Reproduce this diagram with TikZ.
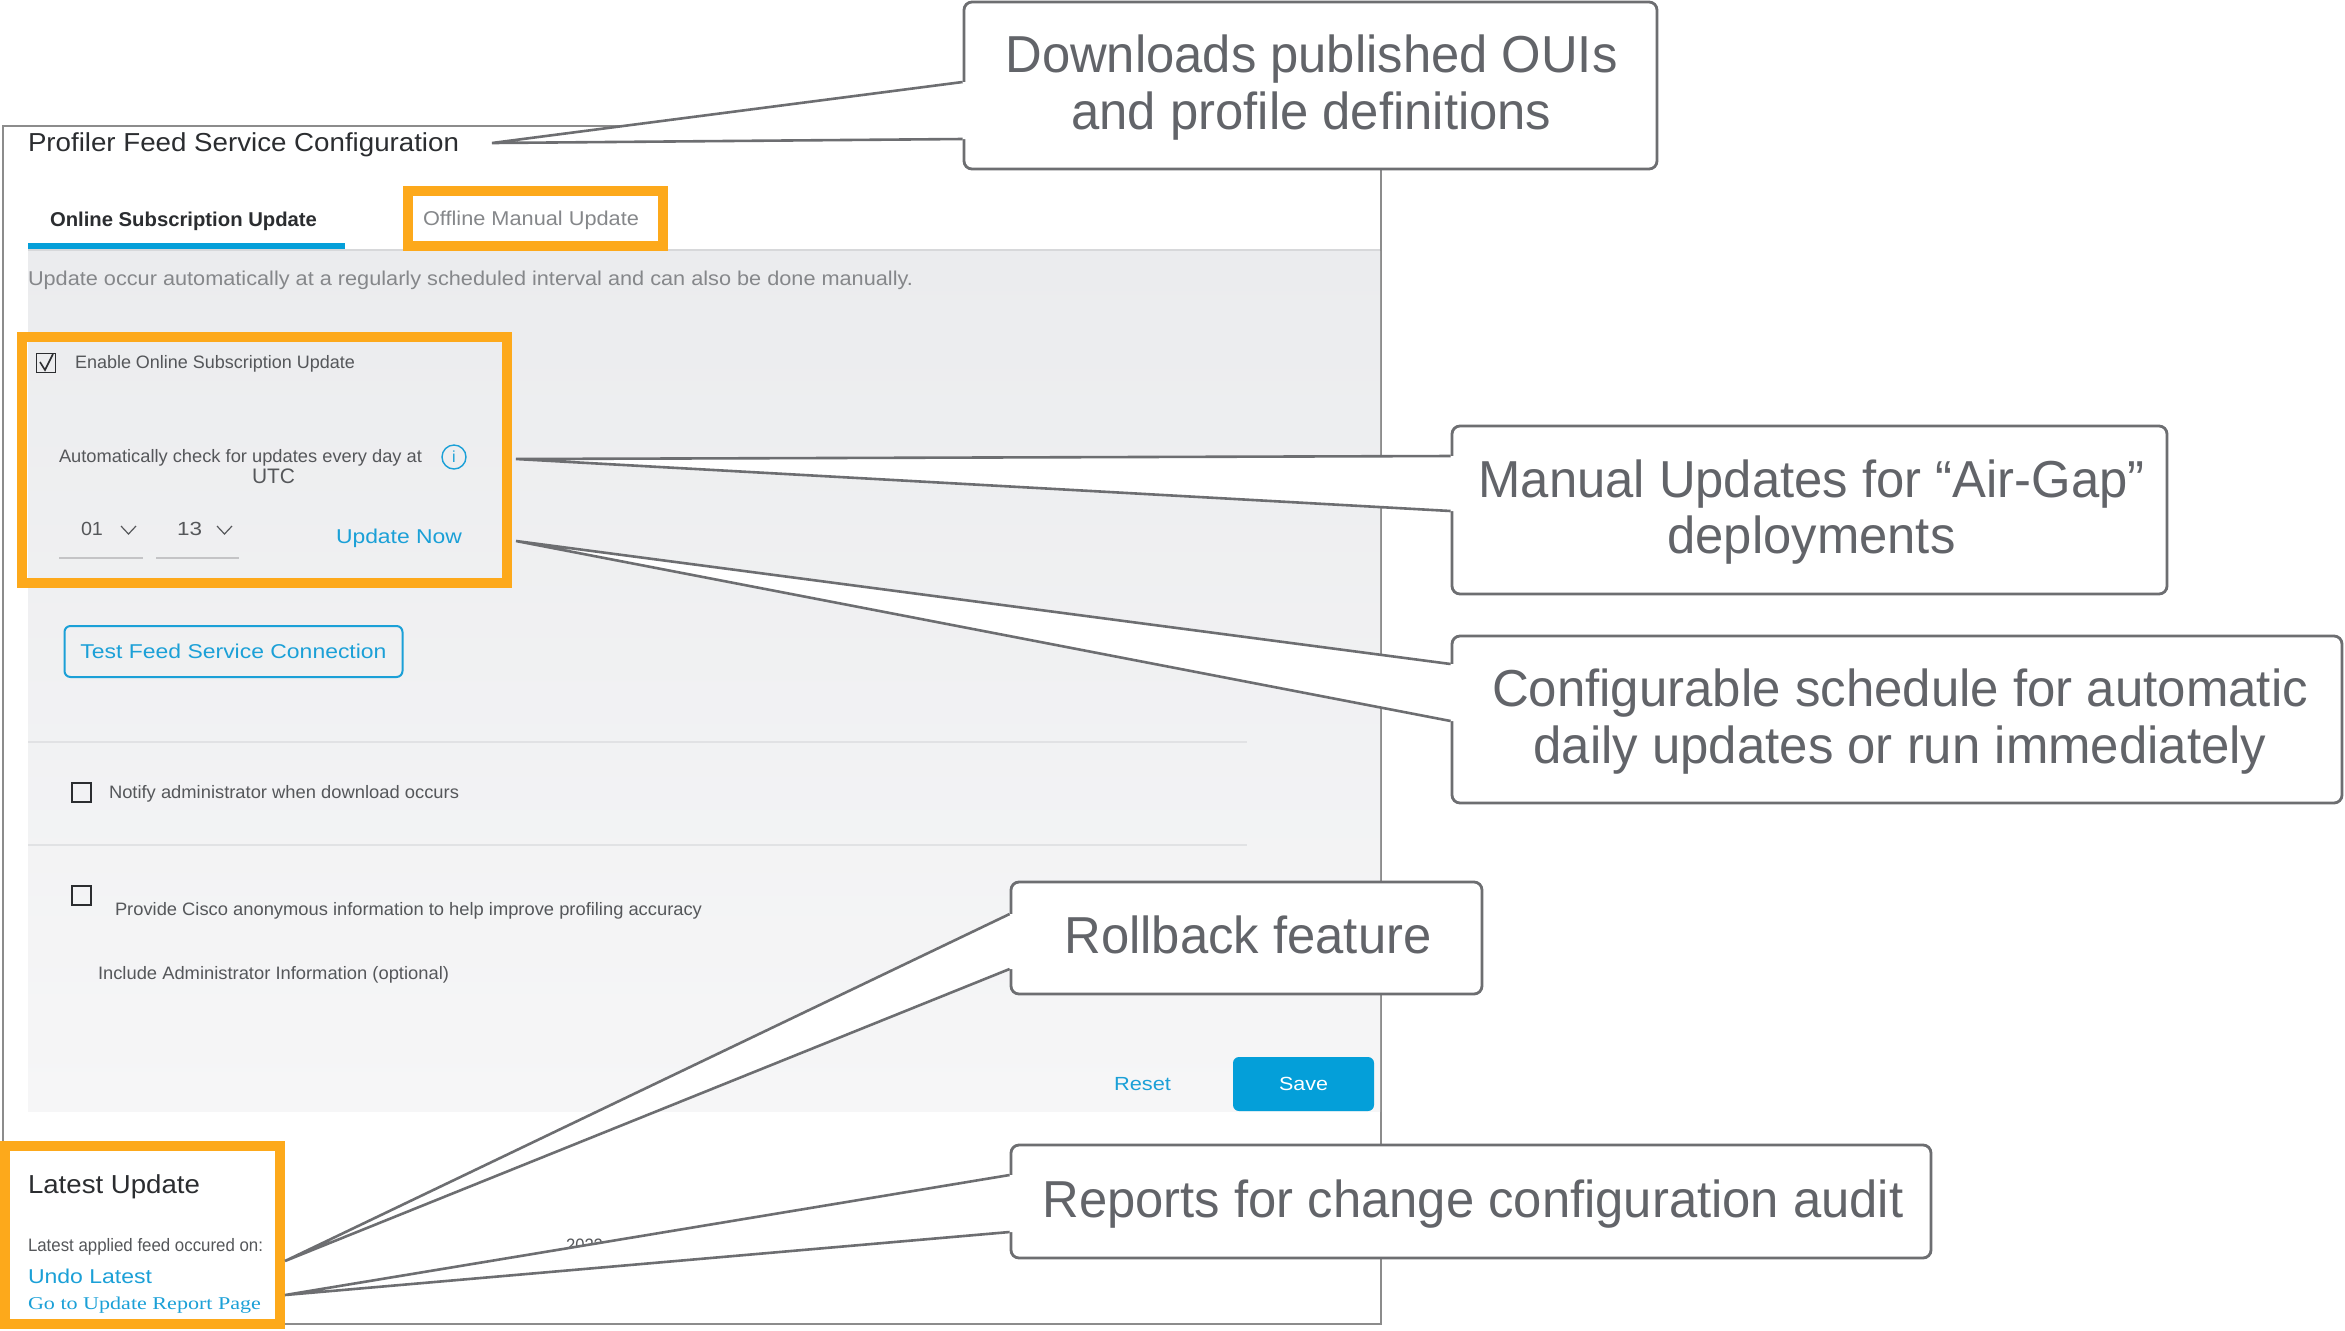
\documentclass[tikz,border=0pt]{standalone}
\usepackage{fontspec}
\usepackage{graphicx}
\setmainfont{Liberation Sans}
\newfontfamily\reportfont{Liberation Serif}
\definecolor{orangeb}{HTML}{FDA91B}
\definecolor{ciscob}{HTML}{1BA0D7}
\definecolor{saveb}{HTML}{049FD9}
\definecolor{callline}{HTML}{6D6E71}
\definecolor{calltxt}{HTML}{626469}
\definecolor{uitxt}{HTML}{55575A}
\definecolor{uidark}{HTML}{2B2D30}
\definecolor{uilight}{HTML}{85878A}
\definecolor{divline}{HTML}{E1E2E4}
\definecolor{paneltop}{HTML}{EBECEE}
\definecolor{panelbot}{HTML}{F6F6F7}
% width in px, font size in pt, text: keeps the height, fits the width
\newcommand\ft[3]{{\fontsize{#2}{#2}\selectfont\resizebox{\dimexpr#1pt/2\relax}{\height}{#3}}}
\tikzset{
  lbl/.style={inner sep=0,outer sep=0,anchor=base west},
  focus/.style={draw=orangeb,line width=5pt,inner sep=0,rectangle},
  callbox/.style={draw=callline,fill=white,line width=1.4pt,rounded corners=4pt,inner sep=0,rectangle},
  calltext/.style={inner sep=0,align=center,text=calltxt},
  wedgefill/.style={fill=white,draw=none},
  wedgeline/.style={draw=callline,line width=1.3pt,line join=miter},
  chk/.style={draw=uidark,line width=0.8pt,inner sep=0,minimum width=9.5pt,minimum height=9.5pt,rectangle},
  chev/.style={draw=uitxt,line width=0.6pt},
  under/.style={draw=divline!70!gray,line width=0.8pt},
  divider/.style={draw=divline,line width=0.8pt}
}
\begin{document}
\begin{tikzpicture}[x=0.5pt,y=-0.5pt]
\useasboundingbox (0,0) rectangle (2345,1330);
\fill[white] (0,0) rectangle (2345,1330);
% frame and panel
\draw[draw=gray!90,line width=0.6pt] (3,126) rectangle (1381,1324);
\shade[top color=paneltop,bottom color=panelbot] (28,251) rectangle (1380,1111);
\draw[draw=divline!90!gray,line width=1pt] (28,250) -- (1380,250);
\fill[saveb] (28,243) rectangle (345,249);
\draw[divider] (28,742) -- (1247,742);
\draw[divider] (28,845) -- (1247,845);
% texts
\node[lbl,text=uidark] (title) at (28,151) {\ft{431}{13}{Profiler Feed Service Configuration}};
\node[lbl,text=uidark] (online) at (50,226) {\ft{267}{10}{\bfseries Online Subscription Update}};
\node[lbl,text=uilight] (offline) at (423,225) {\ft{216}{10}{Offline Manual Update}};
\node[lbl,text=uilight] (occur) at (28,285.5) {\ft{885}{10}{Update occur automatically at a regularly scheduled interval and can also be done manually.}};
\node[chk,minimum width=9.5pt] (c1) at (46,363) {};
\draw[draw=uidark,line width=0.8pt] (40,362) -- (45,370) -- (53,354);
\node[lbl,text=uitxt] (enable) at (75,368.5) {\ft{280}{9}{Enable Online Subscription Update}};
\node[lbl,text=uitxt] (auto) at (59,462) {\ft{363}{9}{Automatically check for updates every day at}};
\node[circle,draw=ciscob,line width=0.7pt,minimum size=12pt,inner sep=0,text=ciscob] (info) at (454,457) {\fontsize{8}{8}\selectfont i};
\node[lbl,text=uitxt] (utc) at (252,483) {\ft{43}{10.5}{UTC}};
\node[lbl,text=uitxt] (h) at (81,535) {\ft{22}{9.5}{01}};
\draw[chev] (121,526) -- (128.5,534) -- (136,526);
\node[lbl,text=uitxt] (m) at (177,535) {\ft{25}{9.5}{13}};
\draw[chev] (217,526) -- (224.5,534) -- (232,526);
\draw[under] (59,558) -- (143,558);
\draw[under] (156,558) -- (239,558);
\node[lbl,text=ciscob] (now) at (336,543) {\ft{126}{10}{Update Now}};
\node[draw=ciscob,line width=1pt,rounded corners=3pt,minimum width=169pt,minimum height=25.5pt,inner sep=0,text=ciscob,rectangle] (test) at (233.5,651.5) {\ft{306}{10}{Test Feed Service Connection}};
\node[chk] (c2) at (81.5,792.5) {};
\node[lbl,text=uitxt] (notify) at (109,798) {\ft{350}{9}{Notify administrator when download occurs}};
\node[chk] (c3) at (81.5,895.5) {};
\node[lbl,text=uitxt] (provide) at (115,915.5) {\ft{587}{9}{Provide Cisco anonymous information to help improve profiling accuracy}};
\node[lbl,text=uitxt] (include) at (98,979) {\ft{351}{9}{Include Administrator Information (optional)}};
\node[lbl,text=ciscob] (reset) at (1114,1090) {\ft{57}{9.5}{Reset}};
\node[fill=saveb,rounded corners=3pt,minimum width=70.5pt,minimum height=27pt,inner sep=0,text=white,rectangle] (save) at (1303.5,1084) {\ft{49}{9.5}{Save}};
\node[lbl,text=uidark] (latest) at (28,1193) {\ft{172}{13}{Latest Update}};
\node[lbl,text=uitxt] (applied) at (28,1251) {\ft{235}{9}{Latest applied feed occured on:}};
\node[lbl,text=ciscob] (undo) at (28,1283) {\ft{124}{10}{Undo Latest}};
\node[lbl,text=ciscob] (report) at (28,1309) {\ft{233}{9}{\reportfont Go to Update Report Page}};
\node[lbl,text=uitxt] (year) at (566,1251) {\ft{37}{9}{2022}};
% orange highlights
\node[focus,minimum width=127.5pt,minimum height=27.5pt] (fa) at (535.5,218.5) {};
\node[focus,minimum width=242.5pt,minimum height=123pt] (fb) at (264.5,460) {};
\node[focus,minimum width=137.5pt,minimum height=89pt] (fc) at (142.5,1235) {};
% tips
\coordinate (t1) at (492,143);
\coordinate (t2) at (516,459);
\coordinate (t3) at (516,541);
\coordinate (t4) at (285,1261);
\coordinate (t5) at (285,1295);
% callout boxes
\node[callbox,minimum width=346.5pt,minimum height=83.5pt] (b1) at (1310.5,85.5) {};
\node[callbox,minimum width=357.5pt,minimum height=84pt] (b2) at (1809.5,510) {};
\node[callbox,minimum width=445pt,minimum height=83.5pt] (b3) at (1897,719.5) {};
\node[callbox,minimum width=235.5pt,minimum height=56pt] (b4) at (1246.5,938) {};
\node[callbox,minimum width=460pt,minimum height=56.5pt] (b5) at (1471,1201.5) {};
% wedges
\foreach \b/\t/\ya/\yb in {b1/t1/82/139,b2/t2/456/511,b3/t3/664/721,b4/t4/914/969,b5/t5/1175/1232}{
  \fill[wedgefill] (\b.west |- 0,\ya) -- (\t) -- (\b.west |- 0,\yb) -- ([xshift=2pt]\b.west |- 0,\yb) -- ([xshift=2pt]\b.west |- 0,\ya) -- cycle;
  \draw[wedgeline] (\b.west |- 0,\ya) -- (\t) -- (\b.west |- 0,\yb);
}
% callout texts
\node[calltext] (l1) at (1311.5,87.5) {\ft{612}{26}{Downloads published OUIs}\\[3pt]\ft{480}{26}{and profile definitions}};
\node[calltext] (l2) at (1811.5,512) {\ft{666}{26}{Manual Updates for “Air-Gap”}\\[3pt]\ft{288}{26}{deployments}};
\node[calltext] (l3) at (1900,721.5) {\ft{816}{26}{Configurable schedule for automatic}\\[3pt]\ft{733}{26}{daily updates or run immediately}};
\node[calltext] (l4) at (1248,935) {\ft{367}{26}{Rollback feature}};
\node[calltext] (l5) at (1473,1204.5) {\ft{861}{26}{Reports for change configuration audit}};
\end{tikzpicture}
\end{document}
